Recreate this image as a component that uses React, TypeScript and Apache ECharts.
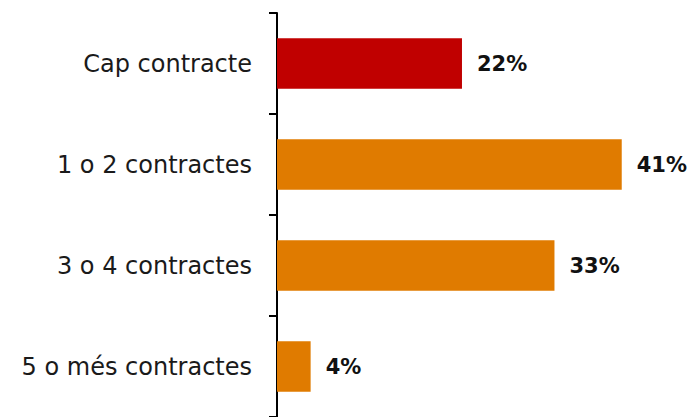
import React, { useEffect, useRef } from "react";
import * as echarts from "echarts";

const categories = ["Cap contracte", "1 o 2 contractes", "3 o 4 contractes", "5 o més contractes"];
const values = [22, 41, 33, 4];
const barColors = ["#C00000", "#E07B00", "#E07B00", "#E07B00"];

export default function App() {
  const ref = useRef<HTMLDivElement>(null);
  useEffect(() => {
    const chart = echarts.init(ref.current!, null, { renderer: "svg" });
    chart.setOption({
      animation: false,
      backgroundColor: "#ffffff",
      grid: { left: 277, top: 13, right: 0, height: 406, containLabel: false },
      xAxis: {
        type: "value",
        min: 0,
        max: 49,
        show: false,
      },
      yAxis: {
        type: "category",
        data: categories,
        inverse: true,
        axisLine: { show: true, lineStyle: { color: "#000", width: 2 } },
        axisTick: { show: true, length: 8, lineStyle: { color: "#000", width: 2 } },
        axisLabel: {
          margin: 25,
          color: "#1a1a1a",
          fontSize: 24,
          fontFamily: "DejaVu Sans",
        },
      },
      series: [
        {
          type: "bar",
          data: values.map((v, i) => ({ value: v, itemStyle: { color: barColors[i] } })),
          barCategoryGap: "50%",
          label: {
            show: true,
            position: "right",
            distance: 15,
            formatter: "{c}%",
            color: "#111",
            fontSize: 21,
            fontWeight: "bold",
            fontFamily: "DejaVu Sans",
          },
        },
      ],
    });
    return () => chart.dispose();
  }, []);
  return <div ref={ref} style={{ position: "fixed", left: 0, top: 0, width: 689, height: 417 }} />;
}
